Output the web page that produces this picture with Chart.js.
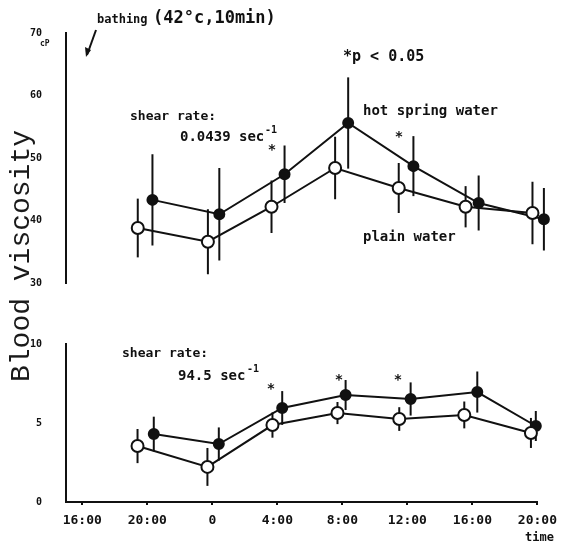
<!DOCTYPE html>
<html lang="en">
<head>
<meta charset="UTF-8">
<title>Blood viscosity after bathing</title>
<script src="https://cdn.jsdelivr.net/npm/chart.js"></script>
<style>
  body { margin: 0; background: #fff; }
  #wrap { position: relative; width: 565px; height: 554px; overflow: hidden; }
  canvas { position: absolute; left: 0; }
  #topChart { top: 0; }
  #bottomChart { top: 300px; }
  #ylabel {
    position: absolute; left: -128px; top: 239px; width: 300px;
    text-align: center; font: 28px 'Liberation Mono', monospace; color: #1a1a1a;
    transform: rotate(-90deg); transform-origin: center; line-height: 34px;
  }
</style>
</head>
<body>
<div id="wrap">
  <canvas id="topChart" width="565" height="300"></canvas>
  <canvas id="bottomChart" width="565" height="254"></canvas>
  <div id="ylabel">Blood viscosity</div>
</div>
<script>
// time axis: hours counted from 16:00 of the bathing day
const tickHours = [0, 4, 8, 12, 16, 20, 24, 28];
const tickLabels = ["16:00", "20:00", "0", "4:00", "8:00", "12:00", "16:00", "20:00"];

// shear rate 0.0439 sec-1 (upper panel)
const lowHotTimes = [4.3, 8.4, 12.4, 16.3, 20.3, 24.3, 28.3];
const lowHotValues = [43.3, 41.0, 47.4, 55.6, 48.7, 42.8, 40.2];
const lowHotErr = [7.3, 7.4, 4.6, 7.3, 4.8, 4.4, 5.0];
const lowPlainTimes = [3.4, 7.7, 11.6, 15.5, 19.4, 23.5, 27.6];
const lowPlainValues = [38.8, 36.6, 42.2, 48.4, 45.2, 42.2, 41.2];
const lowPlainErr = [4.7, 5.2, 4.2, 5.0, 4.0, 3.3, 5.0];

// shear rate 94.5 sec-1 (lower panel)
const highHotTimes = [4.4, 8.4, 12.3, 16.2, 20.2, 24.3, 27.9];
const highHotValues = [4.3, 3.67, 5.95, 6.77, 6.52, 6.96, 4.81];
const highHotErr = [1.1, 1.05, 1.07, 0.95, 1.05, 1.3, 0.95];
const highPlainTimes = [3.4, 7.7, 11.7, 15.7, 19.5, 23.5, 27.6];
const highPlainValues = [3.54, 2.22, 4.87, 5.63, 5.25, 5.51, 4.37];
const highPlainErr = [1.08, 1.2, 0.8, 0.7, 0.75, 0.85, 0.95];

const INK = '#111';
const MONO = "'DejaVu Sans Mono', monospace";

const errorBars = {
  id: 'errorBars',
  beforeDatasetsDraw(chart) {
    const { ctx, scales: { x, y } } = chart;
    ctx.save();
    ctx.strokeStyle = INK;
    ctx.lineWidth = 2;
    chart.data.datasets.forEach(ds => {
      ds.data.forEach((p, i) => {
        const e = ds.errors[i];
        const px = x.getPixelForValue(p.x);
        ctx.beginPath();
        ctx.moveTo(px, y.getPixelForValue(p.y - e));
        ctx.lineTo(px, y.getPixelForValue(p.y + e));
        ctx.stroke();
      });
    });
    ctx.restore();
  }
};

function notes(list, extra) {
  return {
    id: 'notes',
    afterDraw(chart) {
      const ctx = chart.ctx;
      ctx.save();
      ctx.fillStyle = INK;
      ctx.textBaseline = 'middle';
      list.forEach(n => {
        ctx.font = (n.w || 'bold') + ' ' + n.size + 'px ' + MONO;
        ctx.textAlign = n.align || 'left';
        ctx.fillText(n.text, n.x, n.y);
      });
      if (extra) extra(ctx);
      ctx.restore();
    }
  };
}

function series(times, values, errs, filled) {
  return {
    data: times.map((t, i) => ({ x: t, y: values[i] })),
    errors: errs,
    borderColor: INK,
    borderWidth: 2,
    pointRadius: filled ? 5 : 6,
    pointBorderWidth: 2,
    pointBackgroundColor: filled ? INK : '#fff',
    pointBorderColor: INK,
    clip: false,
    order: filled ? 1 : 0
  };
}

function options(yMin, yMax, step, showX) {
  return {
    responsive: false,
    animation: false,
    layout: { padding: showX ? { top: 44, right: 26, left: 0, bottom: 0 } : { top: 33, right: 26, left: 0, bottom: 17 } },
    plugins: { legend: { display: false }, tooltip: { enabled: false } },
    scales: {
      x: {
        type: 'linear', min: -1, max: 28,
        afterBuildTicks: s => { s.ticks = tickHours.map(v => ({ value: v })); },
        afterFit: s => { s.height = showX ? 52 : 0; },
        ticks: {
          display: showX,
          color: INK, padding: 8, maxRotation: 0, autoSkip: false,
          font: { family: MONO, size: 13, weight: 'bold' },
          callback: v => tickLabels[tickHours.indexOf(v)]
        },
        grid: { display: showX, drawOnChartArea: false, drawTicks: true, tickLength: 3, color: INK, lineWidth: 2 },
        border: { display: showX, color: INK, width: 2 }
      },
      y: {
        min: yMin, max: yMax,
        afterFit: s => { s.width = 66; },
        ticks: { stepSize: step, color: INK, padding: 2, font: { family: MONO, size: 10, weight: 'bold' } },
        grid: { drawOnChartArea: false, drawTicks: true, tickLength: 22, tickColor: 'rgba(0,0,0,0)' },
        border: { display: true, color: INK, width: 2 }
      }
    }
  };
}

new Chart(document.getElementById('topChart'), {
  type: 'line',
  data: {
    datasets: [
      series(lowHotTimes, lowHotValues, lowHotErr, true),
      series(lowPlainTimes, lowPlainValues, lowPlainErr, false)
    ]
  },
  options: options(30, 70, 10, false),
  plugins: [errorBars, notes([
    { text: 'bathing', x: 97, y: 20, size: 12 },
    { text: '(42°c,10min)', x: 153, y: 19, size: 17 },
    { text: 'cP', x: 40, y: 44, size: 8 },
    { text: '*p < 0.05', x: 343, y: 57, size: 15 },
    { text: 'shear rate:', x: 130, y: 117, size: 13 },
    { text: '0.0439 sec', x: 180, y: 137, size: 14 },
    { text: '-1', x: 265, y: 130, size: 10 },
    { text: 'hot spring water', x: 363, y: 111, size: 14 },
    { text: 'plain water', x: 363, y: 237, size: 14 },
    { text: '*', x: 272, y: 150, size: 14, align: 'center' },
    { text: '*', x: 399, y: 137, size: 14, align: 'center' }
  ], ctx => {
    // arrow marking the bath
    ctx.strokeStyle = INK;
    ctx.lineWidth = 2;
    ctx.beginPath();
    ctx.moveTo(96, 30);
    ctx.lineTo(87, 55);
    ctx.stroke();
    ctx.beginPath();
    ctx.moveTo(86, 57);
    ctx.lineTo(85, 47);
    ctx.lineTo(91, 50);
    ctx.closePath();
    ctx.fill();
  })]
});

new Chart(document.getElementById('bottomChart'), {
  type: 'line',
  data: {
    datasets: [
      series(highHotTimes, highHotValues, highHotErr, true),
      series(highPlainTimes, highPlainValues, highPlainErr, false)
    ]
  },
  options: options(0, 10, 5, true),
  plugins: [errorBars, notes([
    { text: 'shear rate:', x: 122, y: 54, size: 13 },
    { text: '94.5 sec', x: 178, y: 76, size: 14 },
    { text: '-1', x: 247, y: 69, size: 10 },
    { text: '*', x: 271, y: 89, size: 14, align: 'center' },
    { text: '*', x: 339, y: 80, size: 14, align: 'center' },
    { text: '*', x: 398, y: 80, size: 14, align: 'center' },
    { text: 'time', x: 525, y: 238, size: 12 }
  ])]
});
</script>
</body>
</html>
